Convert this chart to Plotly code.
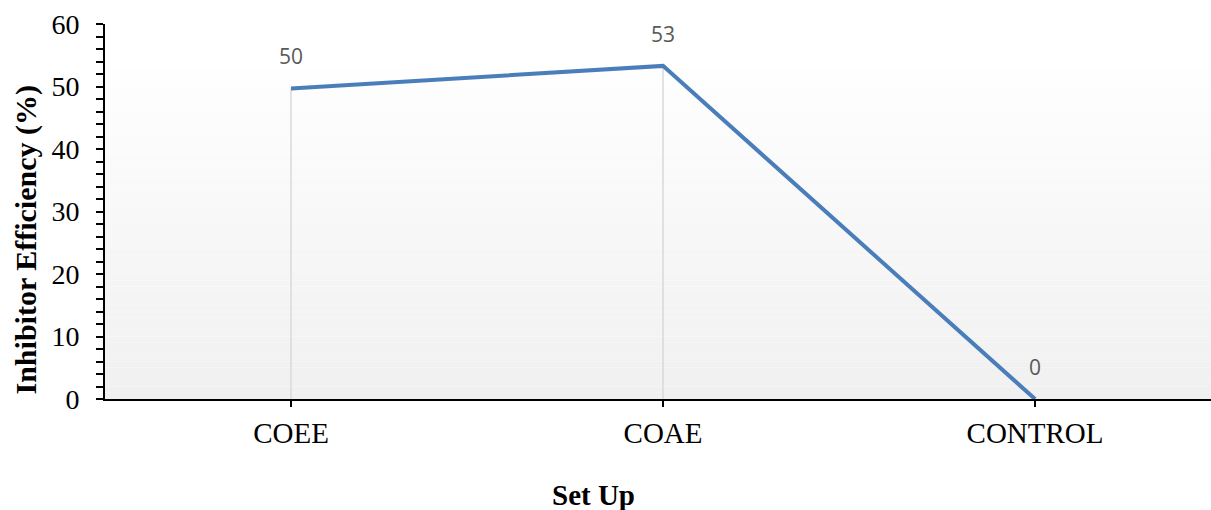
import plotly.graph_objects as go

# Inhibitor efficiency for each set up
set_up = ["COEE", "COAE", "CONTROL"]
efficiency = [49.7, 53.3, 0.0]

y_ticks = [0, 10, 20, 30, 40, 50, 60]

serif = "Liberation Serif, Times New Roman, serif"
line_blue = "#4a7ebb"

fig = go.Figure()

fig.add_trace(go.Scatter(
    x=set_up,
    y=efficiency,
    mode="lines",
    line=dict(color=line_blue, width=4),
    error_y=dict(
        type="data",
        symmetric=False,
        array=[0] * len(efficiency),
        arrayminus=efficiency,
        color="#d9d9d9",
        thickness=1.5,
        width=0,
    ),
    hoverinfo="x+y",
    showlegend=False,
))

# value labels above each point
for cat, val in zip(set_up, efficiency):
    fig.add_annotation(
        x=cat, y=val, text=f"{val:.0f}",
        showarrow=False, yshift=32,
        font=dict(family="Open Sans, Carlito, sans-serif", size=21, color="#595959"),
    )

# axis titles
fig.add_annotation(
    text="<b>Inhibitor Efficiency (%)</b>", textangle=-90,
    xref="paper", yref="paper", x=0, y=0.5,
    xanchor="center", yanchor="middle", xshift=-80, yshift=-29,
    showarrow=False,
    font=dict(family=serif, size=30, color="black"),
)
fig.add_annotation(
    text="<b>Set Up</b>",
    xref="paper", yref="paper", x=(593 - 105) / 1106, y=0,
    xanchor="center", yanchor="middle", yshift=-96,
    showarrow=False,
    font=dict(family=serif, size=29, color="black"),
)

# soft vertical gradient behind the plot area: white at top, light grey at bottom
n_steps = 60
y_top, y_bot = 60.0, 0.0
for i in range(n_steps):
    f0 = i / n_steps
    f1 = (i + 1) / n_steps
    ya = y_top - (y_top - y_bot) * f0
    yb = y_top - (y_top - y_bot) * f1
    t = (f0 + f1) / 2
    t = max(0.0, (t - 0.08) / 0.92)
    g = round(255 - (255 - 240) * t)
    fig.add_shape(
        type="rect", xref="paper", yref="y",
        x0=0, x1=1, y0=yb, y1=ya,
        fillcolor=f"rgb({g},{g},{g})", line=dict(width=0),
        layer="below",
    )

fig.update_layout(
    width=1211,
    height=510,
    margin=dict(l=105, r=0, t=24, b=111),
    paper_bgcolor="white",
    plot_bgcolor="rgba(0,0,0,0)",
    font=dict(family=serif, color="black"),
)

fig.update_xaxes(
    type="category",
    range=[-0.5, 2.473],
    showgrid=False,
    zeroline=False,
    showline=True,
    linecolor="black",
    linewidth=2,
    ticks="outside",
    ticklen=6,
    tickwidth=2,
    tickcolor="black",
    tickfont=dict(family=serif, size=29, color="black"),
    ticklabelstandoff=1,
)

fig.update_yaxes(
    range=[0, 60],
    tickvals=y_ticks,
    showgrid=False,
    zeroline=False,
    showline=True,
    linecolor="black",
    linewidth=2,
    ticks="outside",
    ticklen=7,
    tickwidth=2,
    tickcolor="black",
    minor=dict(dtick=2, ticks="outside", ticklen=7, tickwidth=2, tickcolor="black", showgrid=False),
    tickfont=dict(family=serif, size=28, color="black"),
    ticklabelstandoff=11,
)

fig.write_html("out.html")
